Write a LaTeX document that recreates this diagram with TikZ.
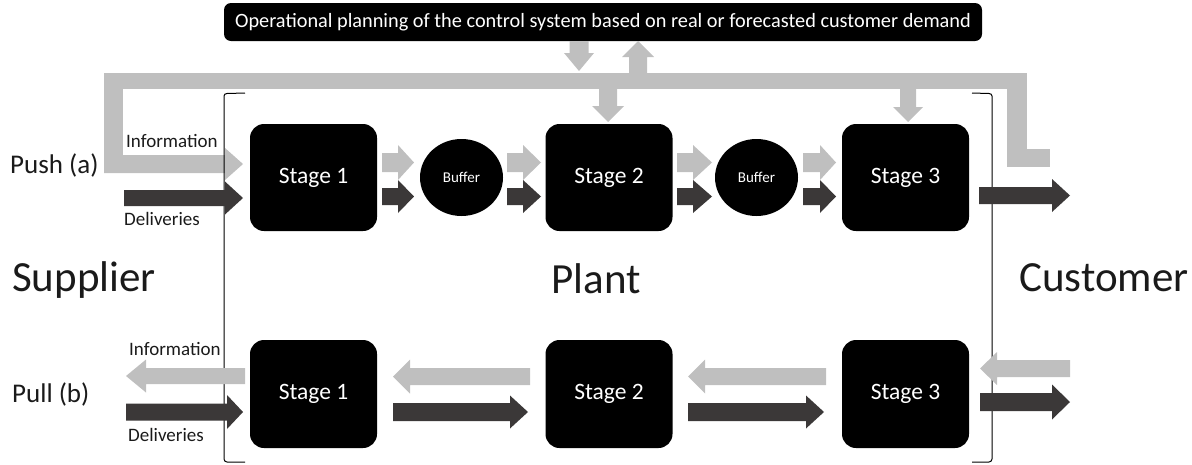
\documentclass[tikz,border=0pt]{standalone}
\usepackage{fontspec}
\setmainfont{Carlito}
\usetikzlibrary{shapes.geometric}
\definecolor{lightarr}{HTML}{BFBFBF}
\definecolor{darkarr}{HTML}{3B3838}
\definecolor{labtxt}{HTML}{1A1A1A}
% horizontal block arrow: colour, x start, x head base, x tip, y centre, shaft half, head half
\newcommand{\harr}[7]{\fill[#1] (#2,#5-#6) -- (#3,#5-#6) -- (#3,#5-#7) -- (#4,#5) -- (#3,#5+#7) -- (#3,#5+#6) -- (#2,#5+#6) -- cycle;}
% vertical block arrow: colour, y start, y head base, y tip, x centre, shaft half, head half
\newcommand{\varr}[7]{\fill[#1] (#5-#6,#2) -- (#5-#6,#3) -- (#5-#7,#3) -- (#5,#4) -- (#5+#7,#3) -- (#5+#6,#3) -- (#5+#6,#2) -- cycle;}
\tikzset{
  stagebox/.style={fill=black, rounded corners=14pt, minimum width=127pt, minimum height=107pt, inner sep=0pt, text=white, font=\fontsize{23.5}{28}\selectfont},
  bufbox/.style={ellipse, fill=black, minimum width=83pt, minimum height=77pt, inner sep=0pt, text=white, font=\fontsize{15}{18}\selectfont},
  lab/.style={inner sep=0pt, text=labtxt, font=\fontsize{19}{22}\selectfont},
  side/.style={inner sep=0pt, text=labtxt, font=\fontsize{27}{31}\selectfont},
  big/.style={inner sep=0pt, text=labtxt, font=\fontsize{43}{50}\selectfont},
  brack/.style={draw=black, line width=1pt}
}
\begin{document}
\begin{tikzpicture}[x=1pt,y=-1pt]
\useasboundingbox (0,0) rectangle (1192,464);
% top planning box
\node[fill=black, rounded corners=7pt, minimum width=758pt, minimum height=38pt, inner sep=0pt, text=white, font=\fontsize{20.3}{23}\selectfont] (plan) at (603,22) {Operational planning of the control system based on real or forecasted customer demand};
% light information band
\fill[lightarr] (104,73) rectangle (1027,89);
\fill[lightarr] (104,73) rectangle (123,173);
\harr{lightarr}{104}{225}{243}{164}{9}{16}
\fill[lightarr] (1007,73) rectangle (1027,167);
\fill[lightarr] (1007,149) rectangle (1050,167);
\varr{lightarr}{41}{53}{71}{579}{9.5}{15}
\varr{lightarr}{73}{57}{41}{638}{9}{16}
\varr{lightarr}{89}{106}{122}{608}{9}{16}
\varr{lightarr}{89}{107}{122}{908}{8}{15}
% brackets
\draw[brack] (245,93) -- (227,93.5) to[out=180,in=90] (224,96) -- (224,459) to[out=-90,in=180] (227,462) -- (245,462);
\draw[brack] (972,93) -- (989,93.5) to[out=0,in=90] (992,96) -- (992,459) to[out=-90,in=0] (989,462) -- (972,462);
% push row nodes
\node[stagebox] (p1) at (313.5,177.5) {Stage 1};
\node[stagebox] (p2) at (609,177.5) {Stage 2};
\node[stagebox] (p3) at (905.5,177.5) {Stage 3};
\node[bufbox] (b1) at (461.5,177.5) {Buffer};
\node[bufbox] (b2) at (756.5,177.5) {Buffer};
% push row arrows
\harr{darkarr}{124}{225}{243}{198}{8}{16.5}
\harr{lightarr}{382}{398}{414}{162.5}{9.5}{17.5}
\harr{darkarr}{382}{398}{414}{196.5}{8.5}{16.5}
\harr{lightarr}{507}{523}{541}{162.5}{9.5}{17.5}
\harr{darkarr}{507}{523}{541}{196.5}{8.5}{16.5}
\harr{lightarr}{677}{693}{712}{162.5}{9.5}{17.5}
\harr{darkarr}{677}{693}{712}{196.5}{8.5}{16.5}
\harr{lightarr}{803}{820}{836}{162.5}{9.5}{17.5}
\harr{darkarr}{803}{820}{836}{196.5}{8.5}{16.5}
\harr{darkarr}{979}{1052}{1070}{195.5}{8.5}{16.5}
% pull row nodes
\node[stagebox, minimum height=108pt] (q1) at (313.5,394) {Stage 1};
\node[stagebox, minimum height=108pt] (q2) at (609,394) {Stage 2};
\node[stagebox, minimum height=108pt] (q3) at (905.5,394) {Stage 3};
% pull row arrows
\harr{lightarr}{245}{146}{126}{376}{8}{16.5}
\harr{darkarr}{126}{227}{243}{412}{8.5}{17}
\harr{lightarr}{530}{410}{393}{376.5}{8.5}{17}
\harr{darkarr}{393}{510}{528}{412}{9}{16.5}
\harr{lightarr}{826}{705}{688}{376.5}{8.5}{17}
\harr{darkarr}{688}{806}{824}{412}{9}{16.5}
\harr{lightarr}{1070}{997}{980}{368.5}{8.5}{16.5}
\harr{darkarr}{980}{1052}{1070}{402}{9}{17.5}
% labels
\node[side, anchor=west] (push) at (10,165) {Push (a)};
\node[side, anchor=west] (pull) at (12,394) {Pull (b)};
\node[lab, anchor=west] (info1) at (126,141) {Information};
\node[lab, anchor=west] (deli1) at (124,219) {Deliveries};
\node[lab, anchor=west] (info2) at (129,349) {Information};
\node[lab, anchor=west] (deli2) at (128,435) {Deliveries};
\node[big, anchor=west] (supp) at (12,280) {Supplier};
\node[big] (plant) at (596,279) {Plant};
\node[big, anchor=west] (cust) at (1019,278) {Customer};
\end{tikzpicture}
\end{document}
